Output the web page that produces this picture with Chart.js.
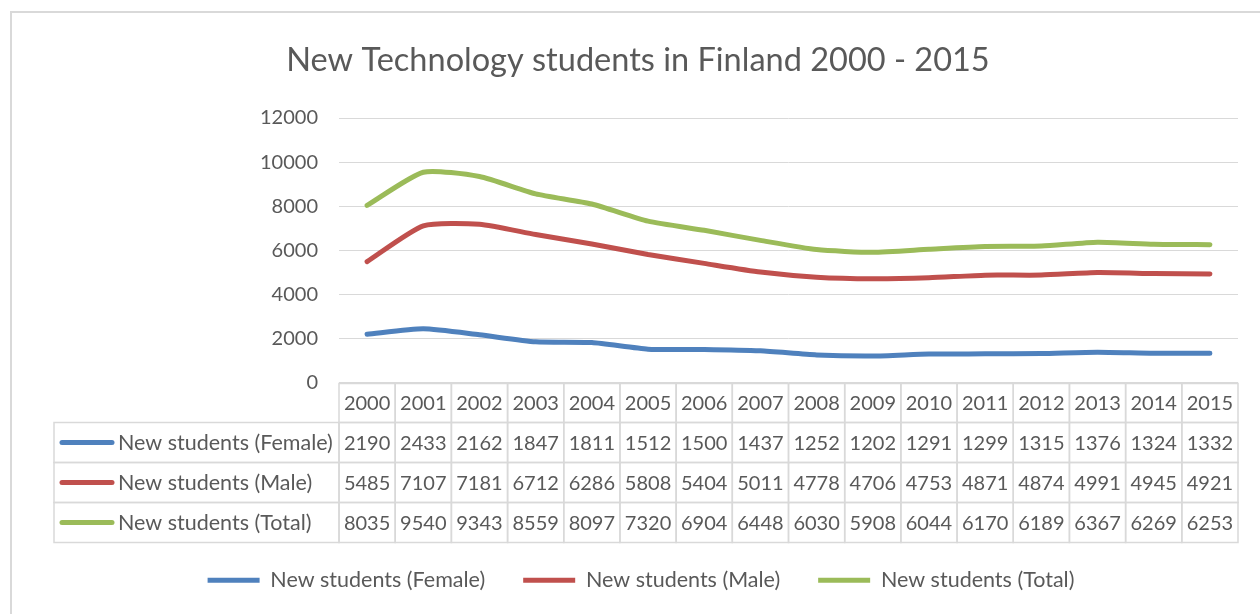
<!DOCTYPE html>
<html>
<head>
<meta charset="utf-8">
<script src="https://cdn.jsdelivr.net/npm/chart.js@4.4.1/dist/chart.umd.min.js"></script>
<style>
  html, body { margin: 0; padding: 0; background: #fff; }
  canvas { display: block; }
</style>
</head>
<body>
<canvas id="chart" width="1260" height="614"></canvas>
<script>
// data (table values)
const years = ['2000', '2001', '2002', '2003', '2004', '2005', '2006', '2007',
               '2008', '2009', '2010', '2011', '2012', '2013', '2014', '2015'];
const female = [2190, 2433, 2162, 1847, 1811, 1512, 1500, 1437, 1252, 1202, 1291, 1299, 1315, 1376, 1324, 1332];
const male = [5485, 7107, 7181, 6712, 6286, 5808, 5404, 5011, 4778, 4706, 4753, 4871, 4874, 4991, 4945, 4921];
const total = [8035, 9540, 9343, 8559, 8097, 7320, 6904, 6448, 6030, 5908, 6044, 6170, 6189, 6367, 6269, 6253];
const seriesNames = ['New students (Female)', 'New students (Male)', 'New students (Total)'];
const chartTitle = 'New Technology students in Finland 2000 - 2015';
const yMax = 12000;
const yStep = 2000;

const textColor = '#595959';
const lineGray = '#D9D9D9';
const colors = ['#4F81BD', '#C0504D', '#9BBB59'];
const fontFamily = 'Lato, "Open Sans", sans-serif';

// frame, title and the data table under the plot
const tablePlugin = {
  id: 'dataTable',
  beforeDraw(chart) {
    const c = chart.ctx;
    c.save();
    c.strokeStyle = lineGray;
    c.lineWidth = 2;
    c.strokeRect(11, 12, 1300, 700);
    c.fillStyle = textColor;
    c.font = '32.5px ' + fontFamily;
    c.textAlign = 'center';
    c.textBaseline = 'middle';
    c.fillText(chartTitle, 638, 61);
    c.restore();
  },
  afterDraw(chart) {
    const c = chart.ctx;
    const xs = chart.scales.x;
    const area = chart.chartArea;
    const colW = (area.right - area.left) / years.length;
    const top = area.bottom + 1;
    const headH = 39;
    const rowH = 40;
    const labelLeft = 54;

    c.save();
    c.strokeStyle = lineGray;
    c.lineWidth = 1.5;
    years.forEach((y, i) => {
      const cx = xs.getPixelForValue(i);
      c.strokeRect(cx - colW / 2, top, colW, headH);
    });
    const data = [female, male, total];
    data.forEach((row, r) => {
      const ry = top + headH + r * rowH;
      c.strokeRect(labelLeft, ry, area.left - labelLeft, rowH);
      row.forEach((v, i) => {
        const cx = xs.getPixelForValue(i);
        c.strokeRect(cx - colW / 2, ry, colW, rowH);
      });
    });

    c.fillStyle = textColor;
    c.font = '20px ' + fontFamily;
    c.textBaseline = 'middle';
    c.textAlign = 'center';
    years.forEach((y, i) => {
      c.fillText(y, xs.getPixelForValue(i), top + headH / 2 + 1);
    });
    data.forEach((row, r) => {
      const cy = top + headH + r * rowH + rowH / 2 + 1;
      c.font = '20px ' + fontFamily;
      c.textAlign = 'center';
      row.forEach((v, i) => {
        c.fillText(String(v), xs.getPixelForValue(i), cy);
      });
      // key line + row label
      c.strokeStyle = colors[r];
      c.lineWidth = 5;
      c.lineCap = 'round';
      c.beginPath();
      c.moveTo(62, cy - 1);
      c.lineTo(112, cy - 1);
      c.stroke();
      c.font = '21.5px ' + fontFamily;
      c.textAlign = 'left';
      c.fillText(seriesNames[r], 118, cy);
    });
    c.restore();
  }
};

new Chart(document.getElementById('chart'), {
  type: 'line',
  data: {
    labels: years,
    datasets: [
      { label: seriesNames[0], data: female, borderColor: colors[0], backgroundColor: colors[0] },
      { label: seriesNames[1], data: male, borderColor: colors[1], backgroundColor: colors[1] },
      { label: seriesNames[2], data: total, borderColor: colors[2], backgroundColor: colors[2] }
    ]
  },
  options: {
    responsive: false,
    animation: false,
    layout: { padding: { left: 22, right: 0, top: 118, bottom: 13 } },
    elements: {
      line: { borderWidth: 5, tension: 0.2, borderCapStyle: 'round', borderJoinStyle: 'round' },
      point: { radius: 0, hoverRadius: 0, borderWidth: 5 }
    },
    scales: {
      x: {
        offset: true,
        grid: { display: false },
        border: { display: false },
        ticks: { display: false },
        afterFit(scale) { scale.height = 149; }
      },
      y: {
        min: 0,
        max: yMax,
        ticks: {
          stepSize: yStep,
          color: textColor,
          padding: 21,
          font: { size: 20, family: fontFamily },
          callback: (v) => String(v)
        },
        grid: { color: lineGray, lineWidth: 1, drawTicks: false },
        border: { display: false },
        afterFit(scale) { scale.width = 317; }
      },
      // empty right margin so the legend centres like the reference
      yRight: {
        position: 'right',
        min: 0,
        max: yMax,
        grid: { display: false },
        border: { display: false },
        ticks: { display: false },
        afterFit(scale) { scale.width = 22; }
      }
    },
    plugins: {
      title: { display: false },
      legend: {
        position: 'bottom',
        labels: {
          color: textColor,
          font: { size: 21.5, family: fontFamily },
          usePointStyle: true,
          pointStyle: 'line',
          pointStyleWidth: 52,
          boxWidth: 52,
          boxHeight: 20,
          padding: 38
        }
      },
      tooltip: { enabled: false }
    }
  },
  plugins: [tablePlugin]
});
</script>
</body>
</html>
